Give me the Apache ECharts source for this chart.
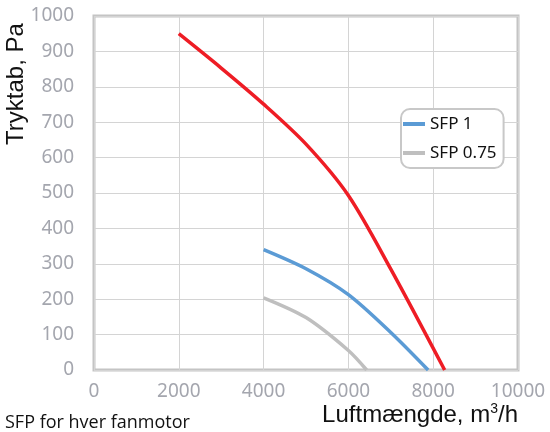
<!DOCTYPE html>
<html>
<head>
<meta charset="utf-8">
<script src="https://cdn.jsdelivr.net/npm/echarts@6/dist/echarts.min.js"></script>
<style>html,body{margin:0;padding:0;background:#fff;}#c{width:550px;height:432px;}</style>
</head>
<body>
<div id="c"></div>
<script>
const xTicks = [0, 2000, 4000, 6000, 8000, 10000];
const yTicks = [0, 100, 200, 300, 400, 500, 600, 700, 800, 900, 1000];
const redX = [2000, 3000, 4000, 5000, 6000, 7000, 8270];
const redY = [950, 853, 751, 638, 493, 285, 0];
const sfp1X = [4000, 5000, 6000, 7000, 7880];
const sfp1Y = [340, 286, 213, 106, 0];
const sfp075X = [4000, 5000, 6000, 6430];
const sfp075Y = [204, 148, 55, 0];
const seriesNames = ['', 'SFP 1', 'SFP 0.75'];
const xTitle = 'Luftmængde, m';
const yTitle = 'Tryktab, Pa';
const footnote = 'SFP for hver fanmotor';

const zip = (xs, ys) => xs.map((x, i) => [x, ys[i]]);
const chart = echarts.init(document.getElementById('c'));
const labelColor = '#a4a6ae';
const lineOpts = {smooth: 0.3, showSymbol: false};
chart.setOption({
  animation: false,
  grid: {left: 94, right: 32, top: 16, bottom: 62, show: true, borderColor: '#c4c4c4', borderWidth: 3},
  xAxis: {
    type: 'value', min: xTicks[0], max: xTicks[xTicks.length - 1], interval: 2000,
    axisLine: {show: false}, axisTick: {show: false},
    splitLine: {lineStyle: {color: '#d4d4d4', width: 1}},
    axisLabel: {color: labelColor, fontSize: 19, fontFamily: 'Noto Sans', margin: 12, formatter: v => String(v)}
  },
  yAxis: {
    type: 'value', min: yTicks[0], max: yTicks[yTicks.length - 1], interval: 100,
    axisLine: {show: false}, axisTick: {show: false},
    splitLine: {lineStyle: {color: '#d4d4d4', width: 1}},
    axisLabel: {color: labelColor, fontSize: 19, fontFamily: 'Noto Sans', margin: 20, formatter: v => String(v)}
  },
  legend: {
    data: [seriesNames[1], seriesNames[2]],
    orient: 'vertical', left: 401, top: 109,
    icon: 'rect', itemWidth: 22, itemHeight: 4, itemGap: 11,
    padding: [6, 7, 6, 2],
    borderColor: '#c8c8c8', borderWidth: 2, borderRadius: 9, backgroundColor: '#fff',
    textStyle: {color: '#111', fontSize: 17, fontFamily: 'Noto Sans', lineHeight: 18}
  },
  series: [
    Object.assign({name: 'main', type: 'line', data: zip(redX, redY),
     lineStyle: {color: '#ee1d25', width: 3.5}, itemStyle: {color: '#ee1d25'}}, lineOpts),
    Object.assign({name: seriesNames[1], type: 'line', data: zip(sfp1X, sfp1Y),
     lineStyle: {color: '#5b9bd5', width: 3.5}, itemStyle: {color: '#5b9bd5'}}, lineOpts),
    Object.assign({name: seriesNames[2], type: 'line', data: zip(sfp075X, sfp075Y),
     lineStyle: {color: '#bfbfbf', width: 3.5}, itemStyle: {color: '#bfbfbf'}}, lineOpts)
  ],
  graphic: [
    {type: 'text', x: 16, y: 84, rotation: Math.PI / 2,
     style: {text: yTitle, fill: '#111', font: '24px "Liberation Sans"', align: 'center', verticalAlign: 'middle'}},
    {type: 'text', right: 32, top: 402,
     style: {text: xTitle + '{sup|3}/h', fill: '#111', font: '24px "Liberation Sans"',
       rich: {sup: {fontSize: 14, fontFamily: 'Liberation Sans', fill: '#111', padding: [0, 0, 12, 0]}}}},
    {type: 'text', left: 5, top: 414,
     style: {text: footnote, fill: '#111', font: '18px "Open Sans"'}}
  ]
});
</script>
</body>
</html>
